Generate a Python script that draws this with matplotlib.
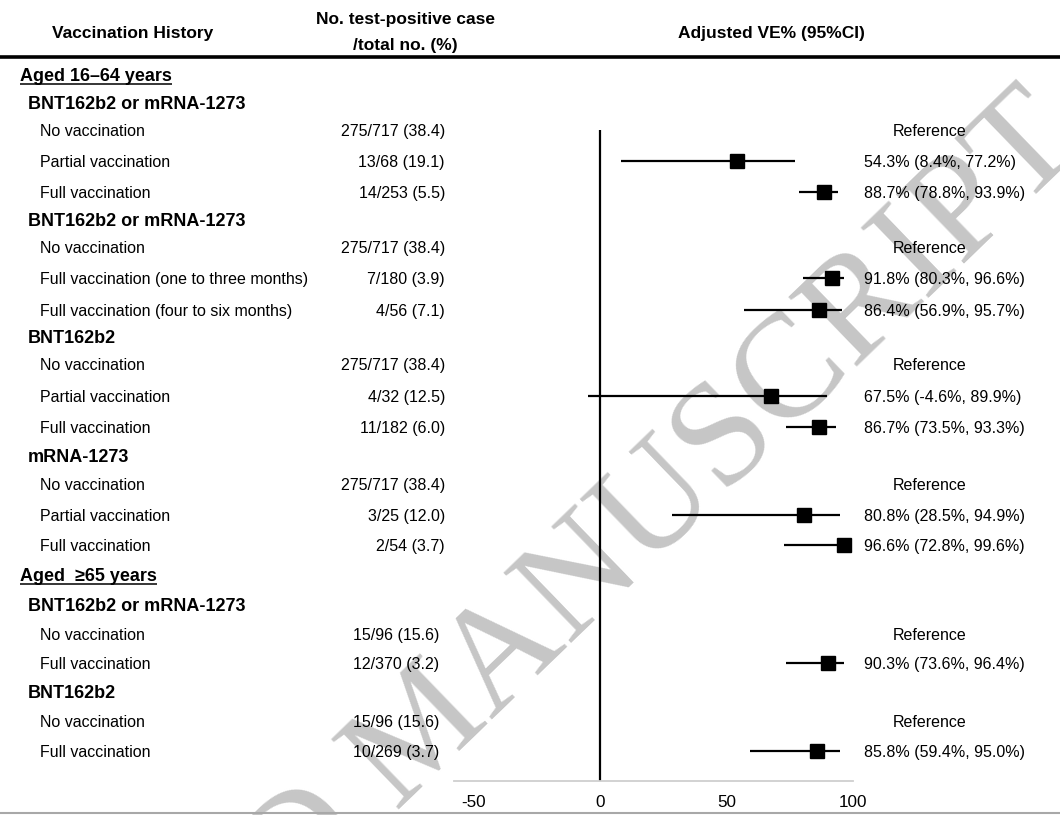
import numpy as np
import matplotlib
matplotlib.use("Agg")
import matplotlib.pyplot as plt

plt.rcParams["font.family"] = ["Liberation Sans", "DejaVu Sans"]

# ---- table content -------------------------------------------------------
row_labels = [
    "Aged 16\u201364 years",
    "BNT162b2 or mRNA-1273",
    "No vaccination", "Partial vaccination", "Full vaccination",
    "BNT162b2 or mRNA-1273",
    "No vaccination", "Full vaccination (one to three months)",
    "Full vaccination (four to six months)",
    "BNT162b2",
    "No vaccination", "Partial vaccination", "Full vaccination",
    "mRNA-1273",
    "No vaccination", "Partial vaccination", "Full vaccination",
    "Aged  \u226565 years",
    "BNT162b2 or mRNA-1273",
    "No vaccination", "Full vaccination",
    "BNT162b2",
    "No vaccination", "Full vaccination",
]
row_kind = [
    "age", "vaccine", "ref", "est", "est",
    "vaccine", "ref", "est", "est",
    "vaccine", "ref", "est", "est",
    "vaccine", "ref", "est", "est",
    "age", "vaccine", "ref", "est",
    "vaccine", "ref", "est",
]
cases = [None, None, 275, 13, 14, None, 275, 7, 4, None, 275, 4, 11, None,
         275, 3, 2, None, None, 15, 12, None, 15, 10]
totals = [None, None, 717, 68, 253, None, 717, 180, 56, None, 717, 32, 182,
          None, 717, 25, 54, None, None, 96, 370, None, 96, 269]
pct_positive = [None, None, 38.4, 19.1, 5.5, None, 38.4, 3.9, 7.1, None,
                38.4, 12.5, 6.0, None, 38.4, 12.0, 3.7, None, None, 15.6,
                3.2, None, 15.6, 3.7]
ve = [np.nan, np.nan, np.nan, 54.3, 88.7, np.nan, np.nan, 91.8, 86.4, np.nan,
      np.nan, 67.5, 86.7, np.nan, np.nan, 80.8, 96.6, np.nan, np.nan, np.nan,
      90.3, np.nan, np.nan, 85.8]
ve_low = [np.nan, np.nan, np.nan, 8.4, 78.8, np.nan, np.nan, 80.3, 56.9,
          np.nan, np.nan, -4.6, 73.5, np.nan, np.nan, 28.5, 72.8, np.nan,
          np.nan, np.nan, 73.6, np.nan, np.nan, 59.4]
ve_high = [np.nan, np.nan, np.nan, 77.2, 93.9, np.nan, np.nan, 96.6, 95.7,
           np.nan, np.nan, 89.9, 93.3, np.nan, np.nan, 94.9, 99.6, np.nan,
           np.nan, np.nan, 96.4, np.nan, np.nan, 95.0]
x_ticks = [-50, 0, 50, 100]

# ---- layout (pixel rows of a 1060 x 815 canvas) --------------------------
W, H = 1060, 815
row_y = [75, 103, 130, 161, 192, 220, 247, 278, 310, 337, 364, 396, 427,
         456, 484, 515, 545, 575, 605, 634, 663, 692, 721, 751]
second_block = 17  # rows from this index onward belong to the older group

BODY = 11.5      # regular row text size (pt)
BOLD = 13.0      # group heading size (pt)
# baseline offsets (px) so that the cap height is centred on each row
off_body = 0.716 * BODY * 100 / 72 / 2
off_bold = 0.716 * BOLD * 100 / 72 / 2

fig = plt.figure(figsize=(W / 100, H / 100), dpi=100)
fig.patch.set_facecolor("white")

# overlay in pixel coordinates for the table text and rules
ov = fig.add_axes([0, 0, 1, 1])
ov.set_xlim(0, W)
ov.set_ylim(H, 0)
ov.axis("off")

# diagonal watermark behind everything
ov.text(1086, 146, "ACCEPTED MANUSCRIPT", rotation=44,
        rotation_mode="anchor", ha="right", va="baseline", fontsize=107,
        family="Liberation Serif", color="#c6c6c6", zorder=0.5)

# forest plot axes: VE scale, y in the same pixel rows
x_left_px, x_zero_px, x_100_px = 454, 600, 853
scale = (x_100_px - x_zero_px) / 100.0
ax_bottom_px, ax_top_px = 781, 120
ax = fig.add_axes([x_left_px / W, (H - ax_bottom_px) / H,
                   (x_100_px - x_left_px) / W,
                   (ax_bottom_px - ax_top_px) / H])
ax.set_facecolor("none")
ax.set_xlim((x_left_px - x_zero_px) / scale, 100)
ax.set_ylim(ax_bottom_px, ax_top_px)
for s in ("top", "right", "left"):
    ax.spines[s].set_visible(False)
ax.spines["bottom"].set_color("#cfcfcf")
ax.spines["bottom"].set_linewidth(1.3)
ax.set_yticks([])
ax.set_xticks(x_ticks)
ax.set_xticklabels([str(t) for t in x_ticks], fontsize=12.3)
ax.tick_params(axis="x", length=0, pad=10, colors="black")

# reference line at zero
ax.plot([0, 0], [130, ax_bottom_px], color="black", lw=1.6,
        solid_capstyle="butt", clip_on=False, zorder=2)

# estimates with confidence intervals
for i, kind in enumerate(row_kind):
    if kind != "est":
        continue
    y = row_y[i]
    ax.plot([ve_low[i], ve_high[i]], [y, y], color="black", lw=1.6,
            solid_capstyle="butt", clip_on=False, zorder=3)
    ax.plot([ve[i]], [y], marker="s", ms=10, color="black", clip_on=False,
            zorder=4)

# ---- header --------------------------------------------------------------
hdr = dict(fontsize=12.5, fontweight="bold", ha="center", va="baseline",
           zorder=5)
hoff = 0.716 * 12.5 * 100 / 72 / 2
ov.text(133, 32 + hoff, "Vaccination History", **hdr)
ov.text(405, 18 + hoff, "No. test-positive case", **hdr)
ov.text(405, 44 + hoff, "/total no. (%)", **hdr)
ov.text(771, 32 + hoff, "Adjusted VE% (95%CI)", **hdr)
ov.plot([0, W], [57, 57], color="black", lw=2.6, solid_capstyle="butt",
        zorder=5)
ov.plot([0, W], [813, 813], color="#a8a8a8", lw=1.5, solid_capstyle="butt",
        zorder=5)

# ---- table rows ----------------------------------------------------------
underline_texts = []
for i, (lab, kind) in enumerate(zip(row_labels, row_kind)):
    y = row_y[i]
    yb = y + off_body
    if kind == "age":
        t = ov.text(20, y + off_bold, lab, fontsize=BOLD, fontweight="bold",
                    ha="left", va="baseline", zorder=5)
        underline_texts.append(t)
    elif kind == "vaccine":
        ov.text(28, y + off_bold, lab, fontsize=BOLD, fontweight="bold",
                ha="left", va="baseline", zorder=5)
    else:
        ov.text(40, yb, lab, fontsize=BODY, ha="left", va="baseline",
                zorder=5)
        count_txt = f"{cases[i]}/{totals[i]} ({pct_positive[i]:.1f})"
        if i < second_block:
            ov.text(445, yb, count_txt, fontsize=BODY, ha="right",
                    va="baseline", zorder=5)
        else:
            ov.text(353, yb, count_txt, fontsize=BODY, ha="left",
                    va="baseline", zorder=5)
        if kind == "ref":
            ov.text(930, yb, "Reference", fontsize=BODY, ha="center",
                    va="baseline", zorder=5)
        else:
            ve_txt = f"{ve[i]:.1f}% ({ve_low[i]:.1f}%, {ve_high[i]:.1f}%)"
            ov.text(864, yb, ve_txt, fontsize=BODY, ha="left",
                    va="baseline", zorder=5)

# underline the age-group headings
fig.canvas.draw()
renderer = fig.canvas.get_renderer()
inv = ov.transData.inverted()
for t in underline_texts:
    bb = t.get_window_extent(renderer)
    (x0, _), (x1, _) = inv.transform([[bb.x0, bb.y0], [bb.x1, bb.y1]])
    yline = t.get_position()[1] + 3
    ov.plot([x0, x1], [yline, yline], color="black", lw=1.1,
            solid_capstyle="butt", zorder=5)

fig.savefig("out.png", dpi=100, facecolor="white")
